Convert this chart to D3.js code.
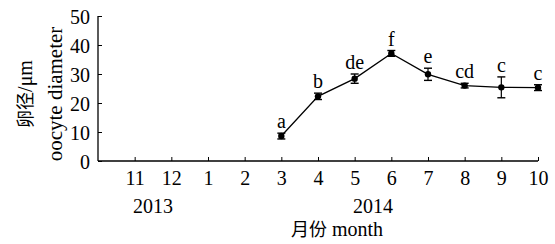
<!DOCTYPE html>
<html lang="zh">
<head>
<meta charset="UTF-8">
<title>卵径</title>
<style>
  body { margin: 0; background: #fff; }
</style>
</head>
<body>
<div id="chart"></div>
<script src="https://d3js.org/d3.v7.min.js"></script>
<script>
  // 月份刻度
  var months = ['11', '12', '1', '2', '3', '4', '5', '6', '7', '8', '9', '10']
  var years = [{label: '2013', from: 0, to: 1}, {label: '2014', from: 2, to: 11}]
  // 卵径均值、误差、显著性字母
  var sampleMonths = ['3', '4', '5', '6', '7', '8', '9', '10']
  var diameter = [8.6, 22.3, 28.4, 37.1, 29.9, 26.0, 25.4, 25.3]
  var errors = [1.0, 1.1, 1.6, 1.0, 2.1, 0.8, 3.6, 1.0]
  var letters = ['a', 'b', 'de', 'f', 'e', 'cd', 'c', 'c']
  var yTicks = [0, 10, 20, 30, 40, 50]

  var width = 555, height = 244
  var fs = '20px'
  var serif = '"Liberation Serif", "Times New Roman", Times, serif'
  var cjk = '"Noto Sans CJK SC", sans-serif'
  var svg = d3.select('#chart').append('svg')
    .attr('width', width).attr('height', height)

  var x0 = 98, x1 = 538, yTop = 16, yBot = 161
  // 第 0 个位置留空，月份从 1 开始
  var x = d3.scaleLinear().domain([0, months.length]).range([x0, x1])
  var xm = function (m) { return x(months.indexOf(m) + 1) }
  var y = d3.scaleLinear().domain([0, 50]).range([yBot, yTop])

  // 坐标轴
  var yAxis = svg.append('g').attr('transform', 'translate(' + x0 + ',0)')
    .call(d3.axisLeft(y).tickValues(yTicks).tickSize(-4).tickPadding(8))
  yAxis.selectAll('text').attr('dy', '0.35em')
  var xAxis = svg.append('g').attr('transform', 'translate(0,' + yBot + ')')
    .call(d3.axisBottom(x).tickValues(d3.range(1, months.length + 1)).tickSize(-4)
      .tickFormat(function (d) { return months[d - 1] }))
  xAxis.selectAll('text').attr('y', 24).attr('dy', 0)
  svg.selectAll('g').attr('font-family', null).attr('font-size', null)
  svg.selectAll('.domain').attr('stroke', '#000').attr('stroke-width', 1.3)
  svg.selectAll('.tick line').attr('stroke', '#000').attr('stroke-width', 1)
  xAxis.select('.domain').attr('d', 'M' + x0 + ',0H' + x1)
  yAxis.select('.domain').attr('d', 'M0,' + yTop + 'V' + yBot)

  // 年份
  svg.selectAll('.year').data(years).enter().append('text')
    .attr('x', function (d) { return (x(d.from + 1) + x(d.to + 1)) / 2 })
    .attr('y', 213).attr('text-anchor', 'middle')
    .text(function (d) { return d.label })

  // 轴标题
  var xt = svg.append('text').attr('x', 337).attr('y', 236).attr('text-anchor', 'middle')
  xt.append('tspan').attr('class', 'cjk').text('月份')
  xt.append('tspan').text(' month')

  var yt = svg.append('text').attr('transform', 'translate(32,94) rotate(-90)')
    .attr('text-anchor', 'middle')
  yt.append('tspan').attr('class', 'cjk').text('卵径')
  yt.append('tspan').text('/μm')
  var ylab = svg.append('text').attr('transform', 'translate(62,94) rotate(-90)')
    .attr('text-anchor', 'middle').text('oocyte diameter')

  // 折线
  var pts = sampleMonths.map(function (m, i) {
    return {m: m, v: diameter[i], e: errors[i], l: letters[i]}
  })
  svg.append('path').datum(pts)
    .attr('fill', 'none').attr('stroke', '#000').attr('stroke-width', 1.3)
    .attr('d', d3.line().x(function (d) { return xm(d.m) }).y(function (d) { return y(d.v) }))

  var g = svg.selectAll('.pt').data(pts).enter().append('g')
  g.append('line')
    .attr('x1', function (d) { return xm(d.m) }).attr('x2', function (d) { return xm(d.m) })
    .attr('y1', function (d) { return y(d.v + d.e) }).attr('y2', function (d) { return y(d.v - d.e) })
    .attr('stroke', '#000').attr('stroke-width', 1.2)
  ;[1, -1].forEach(function (s) {
    g.append('line')
      .attr('x1', function (d) { return xm(d.m) - 4 }).attr('x2', function (d) { return xm(d.m) + 4 })
      .attr('y1', function (d) { return y(d.v + s * d.e) }).attr('y2', function (d) { return y(d.v + s * d.e) })
      .attr('stroke', '#000').attr('stroke-width', 1.4)
  })
  g.append('circle')
    .attr('cx', function (d) { return xm(d.m) }).attr('cy', function (d) { return y(d.v) })
    .attr('r', 3.2).attr('fill', '#000')
  g.append('text')
    .attr('x', function (d) { return xm(d.m) })
    .attr('y', function (d) { return y(d.v + d.e) - 5 })
    .attr('text-anchor', 'middle')
    .text(function (d) { return d.l })

  // 统一字体
  svg.selectAll('text').style('font-family', serif).style('font-size', fs).style('fill', '#000')
  svg.selectAll('tspan.cjk').style('font-family', cjk).style('font-size', '18px')
  ylab.style('font-size', '21px')
</script>
</body>
</html>
